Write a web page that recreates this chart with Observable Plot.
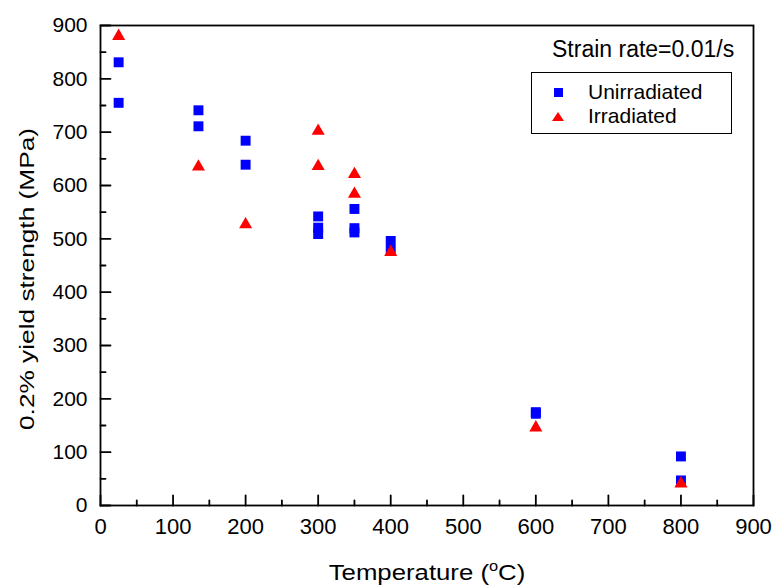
<!DOCTYPE html>
<html>
<head>
<meta charset="utf-8">
<script src="https://cdn.jsdelivr.net/npm/d3@7"></script>
<script src="https://cdn.jsdelivr.net/npm/@observablehq/plot@0.6"></script>
<style>
  body { margin: 0; background: #fff; }
  #wrap { position: relative; width: 774px; height: 586px; font-family: "Liberation Sans", Arial, sans-serif; }
  .ov { position: absolute; color: #000; white-space: nowrap; line-height: normal; }
  #legend { position: absolute; left: 531px; top: 72px; width: 201px; height: 62px; border: 1.5px solid #000; box-sizing: border-box; background: #fff; }
  .row { position: absolute; font-size: 21px; line-height: normal; white-space: nowrap; }
  .sym { position: absolute; }
</style>
</head>
<body>
<div id="wrap"></div>
<script>
// Data
const seriesNames = ["Unirradiated", "Irradiated"];
const unTemp = [25, 25, 135, 135, 200, 200, 300, 300, 300, 350, 350, 350, 400, 400, 600, 600, 800, 800];
const unYield = [831, 755, 741, 711, 684, 639, 542, 521, 509, 556, 520, 512, 496, 478, 175, 172, 92, 47];
const irTemp = [25, 135, 200, 300, 300, 350, 350, 400, 600, 800];
const irYield = [880, 635, 527, 702, 636, 621, 584, 475, 146, 41];
const majorTicks = [0, 100, 200, 300, 400, 500, 600, 700, 800, 900];
const minorTicks = [50, 150, 250, 350, 450, 550, 650, 750, 850];

const un = unTemp.map((t, i) => ({t, y: unYield[i]}));
const ir = irTemp.map((t, i) => ({t, y: irYield[i]}));

// inward tick shape for vector marks
const tickShape = {draw(context, l) { context.moveTo(0, 0); context.lineTo(0, -l); }};

const chart = Plot.plot({
  width: 774,
  height: 586,
  marginLeft: 100,
  marginRight: 21,
  marginTop: 25,
  marginBottom: 81,
  style: {fontFamily: "Liberation Sans, Arial, sans-serif", background: "transparent", color: "#000"},
  x: {domain: [0, 900]},
  y: {domain: [0, 900]},
  marks: [
    Plot.frame({stroke: "#000", strokeWidth: 1.8}),
    Plot.vectorY(majorTicks, {y: d => d, frameAnchor: "left", length: 10, rotate: 90, anchor: "start", shape: tickShape, stroke: "#000", strokeWidth: 1.8}),
    Plot.vectorY(minorTicks, {y: d => d, frameAnchor: "left", length: 5, rotate: 90, anchor: "start", shape: tickShape, stroke: "#000", strokeWidth: 1.8}),
    Plot.vectorX(majorTicks, {x: d => d, frameAnchor: "bottom", length: 10, rotate: 0, anchor: "start", shape: tickShape, stroke: "#000", strokeWidth: 1.8}),
    Plot.vectorX(minorTicks, {x: d => d, frameAnchor: "bottom", length: 5, rotate: 0, anchor: "start", shape: tickShape, stroke: "#000", strokeWidth: 1.8}),
    Plot.axisY(majorTicks, {tickSize: 0, tickPadding: 13, label: null, fontSize: 21, tickFormat: d => String(d)}),
    Plot.axisX(majorTicks, {tickSize: 0, tickPadding: 13, label: null, fontSize: 22, tickFormat: d => String(d)}),
    Plot.dot(un, {x: "t", y: "y", symbol: "square", r: 5.6, fill: "#0000ff", stroke: "none"}),
    Plot.dot(ir, {x: "t", y: "y", symbol: "triangle", r: 4.85, fill: "#ff0000", stroke: "none"})
  ]
});

const wrap = document.getElementById("wrap");
wrap.appendChild(chart);

// Axis titles
const yt = document.createElement("div");
yt.className = "ov";
yt.style.cssText = "left:27px; top:279px; font-size:21px; transform: translate(-50%,-50%) rotate(-90deg) scaleX(1.25);";
yt.textContent = "0.2% yield strength (MPa)";
wrap.appendChild(yt);

const xt = document.createElement("div");
xt.className = "ov";
xt.style.cssText = "left:427px; top:573px; font-size:22px; transform: translate(-50%,-50%) scaleX(1.17);";
xt.innerHTML = "Temperature (<span style='font-size:14px; position:relative; top:-9px'>o</span>C)";
wrap.appendChild(xt);

const st = document.createElement("div");
st.className = "ov";
st.style.cssText = "left:552px; top:36px; font-size:23px;";
st.textContent = "Strain rate=0.01/s";
wrap.appendChild(st);

// Legend
const lg = document.createElement("div");
lg.id = "legend";
lg.innerHTML =
  `<div class="sym" style="left:22px; top:15px; width:9px; height:9px; background:#0000ff"></div>` +
  `<div class="row" style="left:56px; top:7px">${seriesNames[0]}</div>` +
  `<div class="sym" style="left:20px; top:39px; width:0; height:0; border-left:6.5px solid transparent; border-right:6.5px solid transparent; border-bottom:9px solid #ff0000"></div>` +
  `<div class="row" style="left:56px; top:31px">${seriesNames[1]}</div>`;
wrap.appendChild(lg);
</script>
</body>
</html>
